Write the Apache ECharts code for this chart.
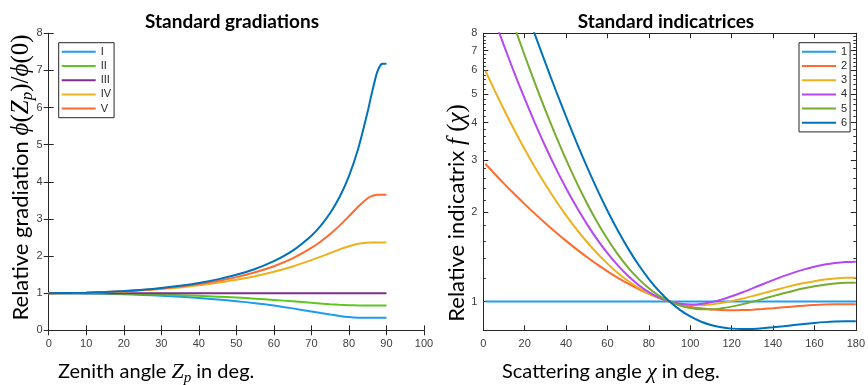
<!DOCTYPE html>
<html>
<head>
<meta charset="utf-8">
<script src="https://cdn.jsdelivr.net/npm/echarts@6/dist/echarts.min.js"></script>
<style>
html,body{margin:0;padding:0;background:#fff;}
#chart{width:868px;height:385px;}
</style>
</head>
<body>
<div id="chart"></div>
<script>
// ---------- Data: standard gradations ----------
const zenith = [0,5,10,15,20,25,30,35,40,45,50,55,60,65,70,72.5,75,77.5,80,82.5,85,86,87.5,88.5,89,90];
const gradI   = [1,0.99822,0.99285,0.98377,0.97078,0.95357,0.93174,0.90476,0.87198,0.83259,0.78565,0.73014,0.66516,0.59047,0.50787,0.46546,0.42447,0.38763,0.35864,0.34114,0.33529,0.33492,0.33486,0.33486,0.33486,0.33486];
const gradII  = [1,0.99899,0.99594,0.99080,0.98345,0.97374,0.96150,0.94645,0.92830,0.90670,0.88129,0.85171,0.81785,0.78011,0.74021,0.72070,0.70269,0.68750,0.67657,0.67082,0.66931,0.66924,0.66923,0.66923,0.66923,0.66923];
const gradIII = [1,1,1,1,1,1,1,1,1,1,1,1,1,1,1,1,1,1,1,1,1,1,1,1,1,1];
const gradIV  = [1,1.00286,1.01153,1.02621,1.04730,1.07538,1.11124,1.15593,1.21088,1.27784,1.35916,1.45771,1.57695,1.72049,1.89039,1.98423,2.08148,2.17757,2.26423,2.32882,2.35947,2.36290,2.36378,2.36379,2.36379,2.36379];
const gradV   = [1,1.00324,1.01306,1.02977,1.05390,1.08629,1.12807,1.18087,1.24688,1.32917,1.43199,1.56138,1.72612,1.93903,2.21893,2.39225,2.59107,2.81912,3.07331,3.33701,3.55872,3.61445,3.64924,3.65160,3.65162,3.65162];
const gradVI  = [1,1.00354,1.01429,1.03262,1.05920,1.09508,1.14174,1.20128,1.27670,1.37225,1.49421,1.65207,1.86071,2.14498,2.54891,2.81966,3.15776,3.58915,4.15279,4.90415,5.89491,6.34319,6.94870,7.15586,7.17783,7.17916];
const gradNames = ['I','II','III','IV','V','VI'];
const gradLegend = ['I','II','III','IV','V'];

// ---------- Data: standard indicatrices ----------
const scatterAngle = [1,5,10,15,20,25,30,35,40,45,50,55,60,65,70,75,80,85,90,95,100,105,110,115,120,125,130,135,140,145,150,155,160,165,170,175,180];
const ind1 = [1,1,1,1,1,1,1,1,1,1,1,1,1,1,1,1,1,1,1,1,1,1,1,1,1,1,1,1,1,1,1,1,1,1,1,1,1];
const ind2 = [2.90871,2.71391,2.49525,2.30086,2.12766,1.97306,1.83482,1.71109,1.60030,1.50117,1.41260,1.33369,1.26370,1.20198,1.14798,1.10122,1.06125,1.02765,1.00000,0.97788,0.96086,0.94849,0.94028,0.93575,0.93437,0.93561,0.93894,0.94380,0.94966,0.95601,0.96235,0.96822,0.97322,0.97700,0.97926,0.97978,0.97841];
const ind3 = [5.98792,5.21917,4.42445,3.77990,3.25558,2.82759,2.47694,2.18854,1.95047,1.75332,1.58971,1.45385,1.34123,1.24832,1.17235,1.11114,1.06293,1.02630,1.00000,0.98297,0.97421,0.97278,0.97774,0.98816,1.00310,1.02158,1.04264,1.06532,1.08865,1.11173,1.13367,1.15368,1.17104,1.18512,1.19544,1.20162,1.20343];
const ind4 = [10.8499,9.05340,7.27045,5.88941,4.81673,3.98071,3.32647,2.81211,2.40569,2.08297,1.82559,1.61968,1.45481,1.32314,1.21881,1.13734,1.07539,1.03031,1.00000,0.98273,0.97696,0.98127,0.99433,1.01480,1.04134,1.07259,1.10716,1.14368,1.18079,1.21717,1.25155,1.28279,1.30983,1.33180,1.34796,1.35780,1.36098];
const ind5 = [16.33997,13.46863,10.62539,8.43118,6.73590,5.42415,4.40735,3.61754,3.00264,2.52275,2.14741,1.85331,1.62270,1.44201,1.30097,1.19162,1.10796,1.04530,1.00000,0.96918,0.95047,0.94190,0.94180,0.94867,0.96114,0.97796,0.99792,1.01989,1.04280,1.06564,1.08748,1.10747,1.12486,1.13901,1.14940,1.15567,1.15756];
const ind6 = [23.71012,19.65089,15.57257,12.37553,9.86833,7.90131,6.35722,5.14444,4.19118,3.44145,2.85144,2.38689,2.02109,1.73316,1.50681,1.32927,1.19055,1.08286,1.00000,0.93716,0.89043,0.85669,0.83344,0.81862,0.81046,0.80755,0.80861,0.81256,0.81848,0.82556,0.83304,0.84035,0.84693,0.85234,0.85623,0.85832,0.85845];
const indNames = ['1','2','3','4','5','6'];

// ---------- Tick values ----------
const logTicksMajor = [1,2,3,4,5,6,7,8];
const logTicksMinor = [0.8,1,1.2,1.4,1.6,1.8,2,2.2,2.4,2.6,2.8,3,3.2,3.4,3.6,3.8,4,4.2,4.4,4.6,4.8,5,5.2,5.4,5.6,5.8,6,6.2,6.4,6.6,6.8,7,7.2,7.4,7.6,7.8,8];

const gradColors = ['#1e9bf0','#5cc81e','#7e2f8e','#edb120','#ff6a2e','#0072bd'];
const indColors  = ['#1e9ef0','#ff6a2e','#edb120','#b448f2','#77ac30','#0072bd'];

const grads = [gradI, gradII, gradIII, gradIV, gradV, gradVI];
const inds = [ind1, ind2, ind3, ind4, ind5, ind6];

function pairs(xs, ys){ return xs.map((x,i)=>[x, ys[i]]); }

const AX = '#262626';
const TICKLBL = {fontFamily:'Liberation Sans', fontSize:11, color:'#404040'};

function xAxisDef(grid, pos, max, interval, labels){
  return {
    type:'value', gridIndex:grid, position:pos, min:0, max:max, interval:interval,
    axisLine:{show:true, lineStyle:{color:AX, width:1}},
    axisTick:{show:true, inside:true, length:5, lineStyle:{color:AX}},
    axisLabel:Object.assign({show:labels, margin:8}, TICKLBL),
    splitLine:{show:false}
  };
}
function yLinDef(pos, labels){
  return {
    type:'value', gridIndex:0, position:pos, min:0, max:8, interval:1,
    axisLine:{show:true, lineStyle:{color:AX, width:1}},
    axisTick:{show:true, inside:true, length:5, lineStyle:{color:AX}},
    axisLabel:Object.assign({show:labels, margin:6}, TICKLBL),
    splitLine:{show:false}
  };
}
function yLogDef(pos, labels, ticks, len){
  return {
    type:'log', logBase:10, gridIndex:1, position:pos, min:0.8, max:8,
    axisLine:{show:true, lineStyle:{color:AX, width:1}},
    axisTick:{show:true, inside:true, length:len, customValues:ticks, lineStyle:{color:AX}},
    axisLabel:Object.assign({show:labels, margin:6, customValues:logTicksMajor}, TICKLBL),
    splitLine:{show:false}, minorTick:{show:false}
  };
}

const series = [];
grads.forEach((g,i)=>{
  series.push({
    name:gradNames[i], type:'line', xAxisIndex:0, yAxisIndex:0,
    data:pairs(zenith, g), showSymbol:false, symbol:'none',
    smooth:0.3,
    lineStyle:{width:2, color:gradColors[i]}, itemStyle:{color:gradColors[i]},
    z:2+i
  });
});
inds.forEach((g,i)=>{
  series.push({
    name:indNames[i], type:'line', xAxisIndex:2, yAxisIndex:2,
    data:pairs(scatterAngle, g), showSymbol:false, symbol:'none',
    smooth:0.3, clip:true,
    lineStyle:{width:2, color:indColors[i]}, itemStyle:{color:indColors[i]},
    z:2+i
  });
});

const legendCommon = {
  orient:'vertical', icon:'rect', itemWidth:34, itemHeight:2, itemGap:0,
  selectedMode:false, backgroundColor:'#fff', borderColor:AX, borderWidth:1,
  padding:[2,3,2,3], borderRadius:0,
  textStyle:{fontFamily:'Liberation Sans', fontSize:11, lineHeight:14.2, color:'#262626'}
};

const mathFont = 'Liberation Serif';
const txtFont = 'Lato';
const option = {
  animation:false,
  backgroundColor:'#fff',
  title:[
    {text:'Standard gradiations', left:227, top:7, textAlign:'center',
     textStyle:{fontFamily:txtFont, fontWeight:'bold', fontSize:19, color:'#000'}},
    {text:'Standard indicatrices', left:661, top:7, textAlign:'center',
     textStyle:{fontFamily:txtFont, fontWeight:'bold', fontSize:19, color:'#000'}}
  ],
  grid:[
    {left:48.7, top:33.3, width:375.3, height:297},
    {left:483.3, top:33.3, width:375, height:297}
  ],
  xAxis:[
    xAxisDef(0,'bottom',100,10,true),
    xAxisDef(0,'top',100,10,false),
    xAxisDef(1,'bottom',180,20,true),
    xAxisDef(1,'top',180,20,false)
  ],
  yAxis:[
    yLinDef('left', true),
    yLinDef('right', false),
    yLogDef('left', true, logTicksMajor, 5),
    yLogDef('left', false, logTicksMinor, 2.5),
    yLogDef('right', false, logTicksMajor, 5),
    yLogDef('right', false, logTicksMinor, 2.5)
  ],
  legend:[
    Object.assign({data:gradLegend, left:58.7, top:42.7}, legendCommon),
    Object.assign({data:indNames, left:799, top:42.7}, legendCommon)
  ],
  graphic:[
    {type:'text', x:21, y:177.5, rotation:Math.PI/2, silent:true,
     style:{text:'{a|Relative gradiation }{m|ϕ}{u|(}{i|Z}{s|p}{u|)/}{m|ϕ}{u|(0)}', align:'center', verticalAlign:'middle',
       rich:{
         a:{fontFamily:txtFont, fontSize:22, lineHeight:30, verticalAlign:'middle', fill:'#000'},
         m:{fontFamily:mathFont, fontStyle:'italic', fontSize:25, lineHeight:30, verticalAlign:'middle', fill:'#000'},
         u:{fontFamily:mathFont, fontSize:25, lineHeight:30, verticalAlign:'middle', fill:'#000'},
         i:{fontFamily:mathFont, fontStyle:'italic', fontSize:25, lineHeight:30, verticalAlign:'middle', fill:'#000'},
         s:{fontFamily:mathFont, fontStyle:'italic', fontSize:17, lineHeight:17, verticalAlign:'bottom', fill:'#000'}
       }}},
    {type:'text', x:457, y:213, rotation:Math.PI/2, silent:true,
     style:{text:'{a|Relative indicatrix }{i|f}{m| (}{i|χ}{m|)}', align:'center', verticalAlign:'middle',
       rich:{
         a:{fontFamily:txtFont, fontSize:22, lineHeight:30, verticalAlign:'middle', fill:'#000'},
         m:{fontFamily:mathFont, fontSize:25, lineHeight:30, verticalAlign:'middle', fill:'#000'},
         i:{fontFamily:mathFont, fontStyle:'italic', fontSize:25, lineHeight:30, verticalAlign:'middle', fill:'#000'}
       }}},
    {type:'text', x:58, y:372, silent:true,
     style:{text:'{a|Zenith angle }{i|Z}{s|p}{a| in deg.}', align:'left', verticalAlign:'middle',
       rich:{
         a:{fontFamily:txtFont, fontSize:20, lineHeight:28, verticalAlign:'middle', fill:'#000'},
         i:{fontFamily:mathFont, fontStyle:'italic', fontSize:22, lineHeight:28, verticalAlign:'middle', fill:'#000'},
         s:{fontFamily:mathFont, fontStyle:'italic', fontSize:15, lineHeight:15, verticalAlign:'bottom', fill:'#000'}
       }}},
    {type:'text', x:502, y:372, silent:true,
     style:{text:'{a|Scattering angle }{i|χ}{a| in deg.}', align:'left', verticalAlign:'middle',
       rich:{
         a:{fontFamily:txtFont, fontSize:20, lineHeight:28, verticalAlign:'middle', fill:'#000'},
         i:{fontFamily:mathFont, fontStyle:'italic', fontSize:22, lineHeight:28, verticalAlign:'middle', fill:'#000'}
       }}}
  ],
  series:series
};

const chart = echarts.init(document.getElementById('chart'), null, {renderer:'canvas'});
chart.setOption(option);
</script>
</body>
</html>
